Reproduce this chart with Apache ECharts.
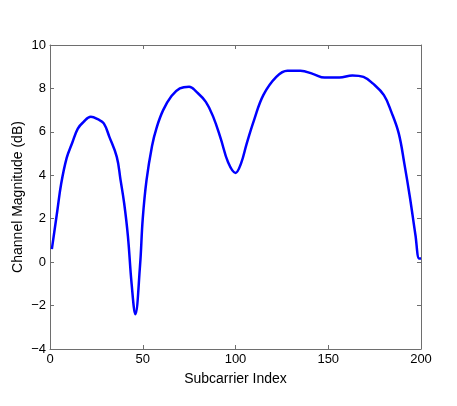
<!DOCTYPE html>
<html>
<head>
<meta charset="utf-8">
<script src="https://cdn.jsdelivr.net/npm/echarts@6/dist/echarts.min.js"></script>
<style>
  html, body { margin: 0; padding: 0; background: #fff; }
  #chart { width: 457px; height: 406px; }
</style>
</head>
<body>
<div id="chart"></div>
<script>
  // values
  var subcarrier = [1, 4, 6, 9, 12, 15, 18, 22, 26, 29, 32, 36, 38, 40, 42, 44, 46, 48.5, 50, 52, 55, 57.5, 61, 65.5, 70, 75, 79, 84, 88, 92, 96, 100, 103, 106, 110, 115, 122, 128, 135, 142, 148, 156, 163, 169, 174, 180, 184, 188, 191, 194, 197, 199, 200];
  var magnitude = [0.6, 2.4, 3.6, 4.8, 5.5, 6.15, 6.45, 6.69, 6.57, 6.39, 5.77, 4.85, 3.8, 2.7, 1.2, -1.0, -2.4, -0.2, 2.0, 3.75, 5.35, 6.2, 7.0, 7.65, 8.0, 8.08, 7.84, 7.38, 6.69, 5.7, 4.6, 4.11, 4.55, 5.45, 6.54, 7.69, 8.53, 8.81, 8.81, 8.66, 8.5, 8.5, 8.6, 8.53, 8.23, 7.69, 6.92, 5.93, 4.55, 3.0, 1.25, 0.17, 0.17];
  var xTicks = [0, 50, 100, 150, 200];
  var yTicks = [-4, -2, 0, 2, 4, 6, 8, 10];

  var pts = [];
  for (var i = 0; i < subcarrier.length; i++) {
    pts.push([subcarrier[i], magnitude[i]]);
  }

  var font = 'Liberation Sans, Arial, sans-serif';
  var axisCol = '#6e6e6e';

  var chart = echarts.init(document.getElementById('chart'));
  var option = {
    animation: false,
    grid: { left: 50, top: 45, right: 36, bottom: 57 },
    xAxis: [
      {
        type: 'value',
        min: xTicks[0],
        max: xTicks[xTicks.length - 1],
        interval: 50,
        name: 'Subcarrier Index',
        nameLocation: 'middle',
        nameGap: 23,
        nameTextStyle: { fontFamily: font, fontSize: 14, color: '#000' },
        axisLine: { onZero: false, lineStyle: { color: axisCol, width: 1 } },
        axisTick: { inside: true, length: 4, lineStyle: { color: axisCol } },
        axisLabel: { fontFamily: font, fontSize: 13, color: '#000', margin: 4 },
        splitLine: { show: false }
      },
      {
        type: 'value',
        position: 'top',
        min: xTicks[0],
        max: xTicks[xTicks.length - 1],
        interval: 50,
        axisLine: { show: true, onZero: false, lineStyle: { color: axisCol, width: 1 } },
        axisTick: { inside: true, length: 4, lineStyle: { color: axisCol } },
        axisLabel: { show: false },
        splitLine: { show: false }
      }
    ],
    yAxis: [
      {
        type: 'value',
        min: yTicks[0],
        max: yTicks[yTicks.length - 1],
        interval: 2,
        name: 'Channel Magnitude (dB)',
        nameLocation: 'middle',
        nameGap: 25,
        nameMoveOverlap: false,
        nameTextStyle: { fontFamily: font, fontSize: 14, color: '#000' },
        axisLine: { show: true, onZero: false, lineStyle: { color: axisCol, width: 1 } },
        axisTick: { show: true, inside: true, length: 4, lineStyle: { color: axisCol } },
        axisLabel: {
          fontFamily: font, fontSize: 13, color: '#000', margin: 4,
          formatter: function (v) { return v < 0 ? '\u2212' + (-v) : '' + v; }
        },
        splitLine: { show: false }
      },
      {
        type: 'value',
        position: 'right',
        min: yTicks[0],
        max: yTicks[yTicks.length - 1],
        interval: 2,
        axisLine: { show: true, onZero: false, lineStyle: { color: axisCol, width: 1 } },
        axisTick: { show: true, inside: true, length: 4, lineStyle: { color: axisCol } },
        axisLabel: { show: false },
        splitLine: { show: false }
      }
    ],
    series: [
      {
        type: 'line',
        data: pts,
        smooth: 0.4,
        showSymbol: false,
        lineStyle: { color: '#0000ff', width: 2.5 }
      }
    ]
  };
  chart.setOption(option);
</script>
</body>
</html>
